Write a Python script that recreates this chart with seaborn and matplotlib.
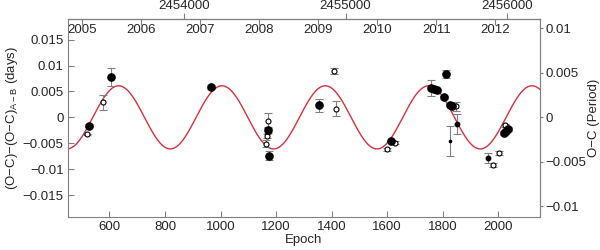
import numpy as np
import matplotlib
matplotlib.use('Agg')
import matplotlib.pyplot as plt
import seaborn as sns
from matplotlib.ticker import FuncFormatter, FixedLocator

# large filled points: epoch, (O-C)-(O-C)_A-B in days, error
big_epoch = [527, 606.5, 965.5, 1169, 1172.7, 1353.4, 1612.4, 1757, 1767.8, 1777.4,
             1805.2, 1810, 1826.9, 1834.1, 2019.6, 2027, 2034]
big_oc = [-0.00162, 0.00778, 0.00579, -0.00245, -0.0074, 0.00231, -0.00458, 0.00566, 0.00546, 0.0052,
          0.00386, 0.00836, 0.00244, 0.00225, -0.00297, -0.0026, -0.00219]
big_err = [0.0003, 0.0017, 0.0004, 0.0005, 0.0009, 0.0012, 0.0003, 0.0015, 0.0003, 0.0003,
           0.0003, 0.0008, 0.0003, 0.0003, 0.0004, 0.0003, 0.0004]

# medium filled points
mid_epoch = [1850.9, 1961.8]
mid_oc = [-0.00123, -0.00786]
mid_err = [0.0019, 0.0009]

# open circles
open_epoch = [518.6, 575.2, 1169, 1165.5, 1163, 1410, 1417.2, 1599.2, 1626.8, 1846.1,
              1981, 2002.7, 2024.4]
open_oc = [-0.00329, 0.00295, -0.00065, -0.00355, -0.00509, 0.00894, 0.00167, -0.00618, -0.0049, 0.00212,
           -0.00914, -0.00689, -0.00149]
open_err = [0.0001, 0.00145, 0.0015, 0.0004, 0.0007, 0.0005, 0.0014, 0.0003, 0.0003, 0.0008,
            0.0004, 0.0003, 0.0003]

# small dot
dot_epoch = [1825.6]
dot_oc = [-0.00451]
dot_err = [0.0029]

# sinusoidal model
model_amp = 0.0061
model_cycle = 372.0   # epochs
model_peak = 633.0    # epoch of a maximum

# ephemeris used for the extra axes
period = 1.718          # days
ref_epoch = 867.8       # epoch at JD 2454000
jd_ticks = [2454000, 2455000, 2456000]
year_ticks = [2005, 2006, 2007, 2008, 2009, 2010, 2011, 2012]
left_ticks = [-0.015, -0.01, -0.005, 0, 0.005, 0.01, 0.015]
right_ticks = [-0.01, -0.005, 0, 0.005, 0.01]

sns.set_style('ticks')
plt.rcParams['font.family'] = ['Liberation Sans', 'DejaVu Sans']
plt.rcParams['mathtext.default'] = 'regular'
plt.rcParams['font.size'] = 9.5

grey = '#808080'

fig, ax = plt.subplots(figsize=(6, 2.5), dpi=100)
fig.subplots_adjust(left=0.113, right=0.9, bottom=0.133, top=0.924)

# model curve
xs = np.linspace(450, 2150, 600)
ys = model_amp * np.cos(2 * np.pi * (xs - model_peak) / model_cycle)
sns.lineplot(x=xs, y=ys, ax=ax, color='#d8303c', linewidth=1.0, zorder=2)

ebkw = dict(ecolor=grey, elinewidth=0.8, capsize=3, capthick=0.8, linestyle='none', zorder=3)
ax.errorbar(open_epoch, open_oc, yerr=open_err, marker='o', ms=3.6, mfc='white', mec='black', mew=0.8, **ebkw)
ax.errorbar(big_epoch, big_oc, yerr=big_err, marker='o', ms=5.2, mfc='black', mec='black', **ebkw)
ax.errorbar(mid_epoch, mid_oc, yerr=mid_err, marker='o', ms=3.2, mfc='black', mec='black', **ebkw)
ax.errorbar(dot_epoch, dot_oc, yerr=dot_err, marker='o', ms=1.6, mfc='black', mec='black', **ebkw)

ax.set_xlim(450, 2150)
ax.set_ylim(-0.0192, 0.019)
ax.set_xticks([600, 800, 1000, 1200, 1400, 1600, 1800, 2000])
ax.set_yticks(left_ticks)

fmt = FuncFormatter(lambda v, p: f'{v:g}'.replace('-', '\u2212'))
ax.yaxis.set_major_formatter(fmt)
ax.tick_params(direction='in', length=4, color=grey, width=0.8, labelsize=9.5, pad=3)
for s in ax.spines.values():
    s.set_color(grey)
    s.set_linewidth(0.8)

ax.set_xlabel('Epoch', labelpad=1)
ax.set_ylabel('(O\u2212C)\u2212(O\u2212C)$_{A\u2212B}$ (days)', labelpad=2)

# right axis in units of the period
rax = ax.secondary_yaxis('right', functions=(lambda d: d / period, lambda c: c * period))
rax.yaxis.set_major_locator(FixedLocator(right_ticks))
rax.yaxis.set_major_formatter(fmt)
rax.tick_params(direction='out', length=2, color=grey, width=0.8, labelsize=9.5, pad=2)
rax.spines['right'].set_color(grey)
rax.set_ylabel('O\u2212C (Period)', labelpad=1)

# top axis: Julian date
def e2jd(e):
    return 2454000 + period * (np.asarray(e) - ref_epoch)

def jd2e(j):
    return ref_epoch + (np.asarray(j) - 2454000) / period

tax = ax.secondary_xaxis('top', functions=(e2jd, jd2e))
tax.xaxis.set_major_locator(FixedLocator(jd_ticks))
tax.xaxis.set_major_formatter(FuncFormatter(lambda v, p: f'{v:.0f}'))
tax.tick_params(direction='out', length=4, color=grey, width=0.8, labelsize=9.5, pad=1)
tax.spines['top'].set_color(grey)

# years, drawn inside the frame
def e2yr(e):
    return 2000 + (e2jd(e) - 2451544.5) / 365.25

def yr2e(y):
    return jd2e(2451544.5 + (np.asarray(y) - 2000) * 365.25)

yax = ax.secondary_xaxis('top', functions=(e2yr, yr2e))
yax.xaxis.set_major_locator(FixedLocator(year_ticks))
yax.xaxis.set_major_formatter(FuncFormatter(lambda v, p: f'{v:.0f}'))
yax.tick_params(direction='in', length=4, color=grey, width=0.8, labelsize=9.5, pad=-12.5)
yax.spines['top'].set_color(grey)

fig.savefig('out.png', dpi=100)
